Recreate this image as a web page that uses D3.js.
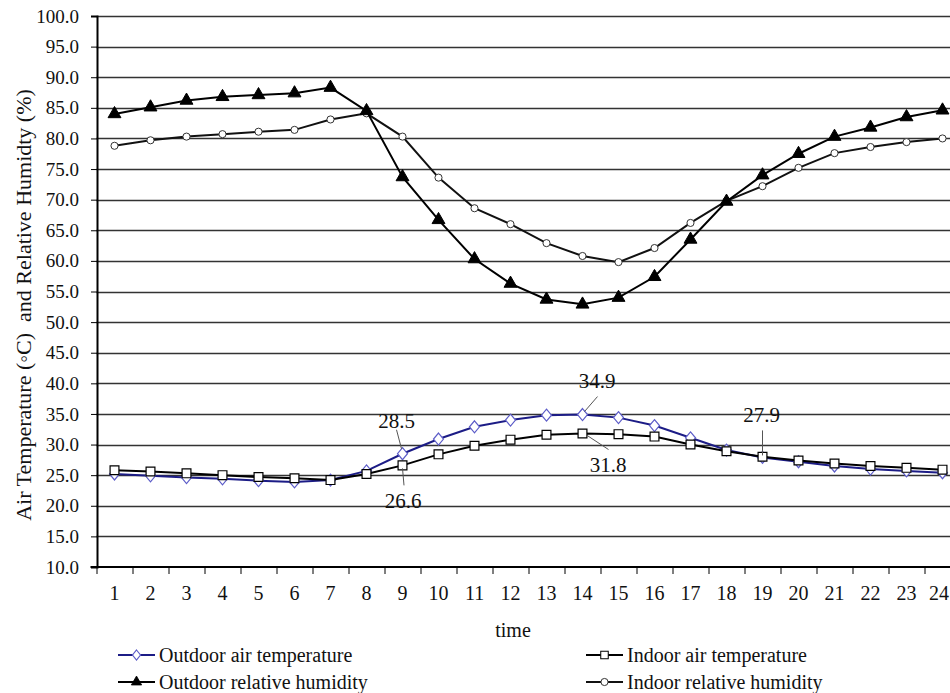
<!DOCTYPE html>
<html>
<head>
<meta charset="utf-8">
<script src="https://cdn.jsdelivr.net/npm/d3@7"></script>
<style>
  body { margin: 0; background: #fff; }
  svg text { font-family: "Liberation Serif", "Times New Roman", serif; fill: #111; }
</style>
</head>
<body>
<div id="vis"></div>
<script>
// hours of the day
var hours = [1, 2, 3, 4, 5, 6, 7, 8, 9, 10, 11, 12, 13, 14, 15, 16, 17, 18, 19, 20, 21, 22, 23, 24];

var outdoorTemp = [25.2, 24.9, 24.6, 24.4, 24.1, 23.9, 24.2, 25.7, 28.5, 30.9, 32.9, 34.0,
                   34.8, 34.9, 34.4, 33.1, 31.1, 29.1, 27.9, 27.2, 26.5, 26.0, 25.7, 25.4];
var indoorTemp = [25.8, 25.6, 25.3, 25.0, 24.7, 24.5, 24.2, 25.2, 26.6, 28.4, 29.8, 30.8,
                  31.6, 31.8, 31.7, 31.3, 30.0, 28.9, 28.0, 27.4, 26.9, 26.5, 26.2, 25.9];
var outdoorRH = [84.0, 85.1, 86.2, 86.8, 87.1, 87.4, 88.3, 84.5, 73.7, 66.7, 60.3, 56.3,
                 53.7, 52.9, 54.0, 57.4, 63.5, 69.7, 74.0, 77.5, 80.3, 81.8, 83.5, 84.6];
var indoorRH = [78.8, 79.7, 80.3, 80.7, 81.1, 81.4, 83.1, 84.1, 80.3, 73.6, 68.6, 66.0,
                62.9, 60.8, 59.8, 62.1, 66.2, 69.8, 72.2, 75.2, 77.6, 78.6, 79.4, 80.0];

var yTicks = [10, 15, 20, 25, 30, 35, 40, 45, 50, 55, 60, 65, 70, 75, 80, 85, 90, 95, 100];

// callouts: which series / hour gets its value written next to it
var callouts = [
  { key: "outT", hour: 9 },
  { key: "inT", hour: 9 },
  { key: "outT", hour: 14 },
  { key: "inT", hour: 14 },
  { key: "outT", hour: 19 }
];

var width = 950;
var height = 693;
var margin = { top: 16, left: 96.5, bottom: 126 };
var serif = '"Liberation Serif", "Times New Roman", serif';

var svg = d3.select('#vis')
    .append('svg')
    .attr('width', width)
    .attr('height', height)
    .style('display', 'block');

var x = d3.scaleBand()
    .domain(hours)
    .range([margin.left, margin.left + 36 * hours.length]);

var y = d3.scaleLinear()
    .domain([10, 100])
    .range([height - margin.bottom, margin.top]);

var xc = function(h) { return x(h) + x.bandwidth() / 2; };

// gridlines
svg.append('g')
    .selectAll('line')
    .data(yTicks.slice(1))
    .enter()
    .append('line')
    .attr('x1', x.range()[0])
    .attr('x2', x.range()[1])
    .attr('y1', function(d) { return Math.round(y(d)) + 0.5; })
    .attr('y2', function(d) { return Math.round(y(d)) + 0.5; })
    .attr('stroke', '#333')
    .attr('stroke-width', 1.3);

// y axis
var yAxis = d3.axisLeft(y)
    .tickValues(yTicks)
    .tickFormat(d3.format('.1f'))
    .tickSize(6)
    .tickPadding(12);

var gy = svg.append('g')
    .attr('transform', 'translate(' + (margin.left + 0.5) + ',0)')
    .call(yAxis)
    .attr('font-family', null);
gy.select('.domain').attr('stroke-width', 2).attr('stroke', '#000');
gy.selectAll('.tick line').attr('stroke', '#000');
gy.selectAll('text')
    .style('font-family', serif)
    .style('font-size', '19px');

// x axis: labels in the middle of each band, ticks on the band edges
var xAxis = d3.axisBottom(x)
    .tickSize(0)
    .tickPadding(19);

var gx = svg.append('g')
    .attr('transform', 'translate(0,' + y(10) + ')')
    .call(xAxis)
    .attr('font-family', null);
gx.select('.domain').remove();
gx.selectAll('text')
    .style('font-family', serif)
    .style('font-size', '20px');

// the last hour label sits on the page edge, keep it inside
gx.selectAll('text').each(function() {
  var b = this.getBBox();
  var tx = +d3.select(this.parentNode).attr('transform').match(/translate\(([^,]+)/)[1];
  if (tx + b.x + b.width > width - 1) {
    d3.select(this).attr('x', width - 1 - (tx + b.x + b.width));
  }
});

svg.append('line')
    .attr('x1', x.range()[0] - 6)
    .attr('x2', x.range()[1])
    .attr('y1', y(10))
    .attr('y2', y(10))
    .attr('stroke', '#000')
    .attr('stroke-width', 2.2);

svg.append('g')
    .selectAll('line')
    .data(hours)
    .enter()
    .append('line')
    .attr('x1', function(d) { return x(d) + 0.5; })
    .attr('x2', function(d) { return x(d) + 0.5; })
    .attr('y1', y(10))
    .attr('y2', y(10) + 7)
    .attr('stroke', '#000');

// axis titles
svg.append('text')
    .attr('transform', 'translate(31,' + 305 + ') rotate(-90)')
    .attr('text-anchor', 'middle')
    .style('font-size', '22px')
    .style('white-space', 'pre')
    .text('Air Temperature (\u25E6C)  and Relative Humidty (%)');

svg.append('text')
    .attr('x', 513)
    .attr('y', 637)
    .attr('text-anchor', 'middle')
    .style('font-size', '20px')
    .text('time');

// marker shapes
var diamondPath = 'M0,-6L5,0L0,6L-5,0Z';
var trianglePath = d3.symbol().type(d3.symbolTriangle).size(72)();
var squarePath = d3.symbol().type(d3.symbolSquare).size(78)();
var circlePath = d3.symbol().type(d3.symbolCircle).size(40)();

var series = [
  { key: 'inRH', name: 'Indoor relative humidity', values: indoorRH, line: '#111', marker: circlePath,
    fill: '#fff', mstroke: '#333', mwidth: 1 },
  { key: 'outRH', name: 'Outdoor relative humidity', values: outdoorRH, line: '#000', marker: trianglePath,
    fill: '#000', mstroke: '#000', mwidth: 1 },
  { key: 'outT', name: 'Outdoor air temperature', values: outdoorTemp, line: '#1c1c86', marker: diamondPath,
    fill: '#fff', mstroke: '#5c5cc8', mwidth: 1.2 },
  { key: 'inT', name: 'Indoor air temperature', values: indoorTemp, line: '#000', marker: squarePath,
    fill: '#fff', mstroke: '#000', mwidth: 1.2 }
];

var line = d3.line()
    .x(function(d, i) { return xc(hours[i]); })
    .y(function(d) { return y(d); });

series.forEach(function(s) {
  var g = svg.append('g').attr('class', 'series ' + s.key);
  g.append('path')
      .datum(s.values)
      .attr('d', line)
      .attr('fill', 'none')
      .attr('stroke', s.line)
      .attr('stroke-width', 2);
  g.selectAll('.marker')
      .data(s.values)
      .enter()
      .append('path')
      .attr('class', 'marker')
      .attr('d', s.marker)
      .attr('transform', function(d, i) { return 'translate(' + xc(hours[i]) + ',' + y(d) + ')'; })
      .attr('fill', s.fill)
      .attr('stroke', s.mstroke)
      .attr('stroke-width', s.mwidth);
});

// callout labels with leader lines (offsets from the marker, in px)
var calloutLayout = {
  'outT9':  { lx1: -6, ly1: -24, lx2: -1, ly2: -5, tx: -6, ty: -26 },
  'inT9':   { lx1: 0, ly1: 3, lx2: 1.5, ly2: 20, tx: 0.5, ty: 42.5 },
  'outT14': { lx1: 15, ly1: -18, lx2: 2, ly2: -3, tx: 14.5, ty: -26.5 },
  'inT14':  { lx1: 4, ly1: 1.5, lx2: 26, ly2: 16, tx: 25.5, ty: 38.5 },
  'outT19': { lx1: 0, ly1: -27, lx2: 0, ly2: -2, tx: -1, ty: -35 }
};

var seriesByKey = {};
series.forEach(function(s) { seriesByKey[s.key] = s; });

callouts.forEach(function(c) {
  var s = seriesByKey[c.key];
  var v = s.values[hours.indexOf(c.hour)];
  var px = xc(c.hour), py = y(v);
  var o = calloutLayout[c.key + c.hour];
  svg.append('line')
      .attr('x1', px + o.lx1).attr('y1', py + o.ly1)
      .attr('x2', px + o.lx2).attr('y2', py + o.ly2)
      .attr('stroke', '#555')
      .attr('stroke-width', 1);
  svg.append('text')
      .attr('x', px + o.tx)
      .attr('y', py + o.ty)
      .attr('text-anchor', 'middle')
      .style('font-size', '21px')
      .text(d3.format('.1f')(v));
});

// legend
var legendItems = [
  { key: 'outT', x: 118, y: 655 },
  { key: 'inT', x: 586, y: 655 },
  { key: 'outRH', x: 118, y: 682 },
  { key: 'inRH', x: 586, y: 682 }
];

legendItems.forEach(function(l) {
  var s = seriesByKey[l.key];
  var g = svg.append('g').attr('transform', 'translate(' + l.x + ',' + l.y + ')');
  g.append('line')
      .attr('x1', 0).attr('x2', 37)
      .attr('stroke', s.line)
      .attr('stroke-width', 2);
  g.append('path')
      .attr('d', s.key === 'outT' ? 'M0,-5L4,0L0,5L-4,0Z' : s.marker)
      .attr('transform', 'translate(18.5,0)' + (s.key === 'inT' ? ' scale(0.85)' : s.key === 'outRH' ? ' scale(0.8)' : ''))
      .attr('fill', s.fill)
      .attr('stroke', s.mstroke)
      .attr('stroke-width', s.mwidth);
  g.append('text')
      .attr('x', 41)
      .attr('y', 6.5)
      .style('font-size', '20px')
      .text(s.name);
});
</script>
</body>
</html>
